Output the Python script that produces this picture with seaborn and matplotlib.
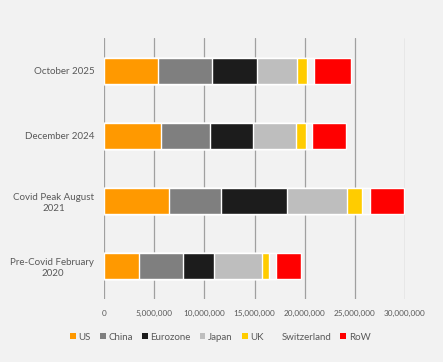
import matplotlib
matplotlib.use("Agg")
import matplotlib.pyplot as plt
from matplotlib.patches import Patch
from matplotlib.ticker import FuncFormatter
import seaborn as sns
import pandas as pd
import numpy as np

periods = ["October 2025", "December 2024", "Covid Peak August\n2021", "Pre-Covid February\n2020"]
series = ["US", "China", "Eurozone", "Japan", "UK", "Switzerland", "RoW"]
us = [5370000, 5640000, 6470000, 3470000]
china = [5400000, 4930000, 5200000, 4400000]
eurozone = [4500000, 4330000, 6530000, 3100000]
japan = [4000000, 4240000, 6040000, 4770000]
uk = [1000000, 1030000, 1430000, 730000]
switzerland = [700000, 600000, 870000, 630000]
row = [3600000, 3300000, 3330000, 2500000]
colors = ["#FF9900", "#7F7F7F", "#1C1C1C", "#BEBEBE", "#FFCC00", "#F2F2F2", "#FF0000"]
xticks = [0, 5000000, 10000000, 15000000, 20000000, 25000000, 30000000]

bg = "#F2F2F2"
sns.set_style("white")
plt.rcParams["font.family"] = ["Lato", "DejaVu Sans"]

df = pd.DataFrame({"period": periods, "US": us, "China": china, "Eurozone": eurozone,
                   "Japan": japan, "UK": uk, "Switzerland": switzerland, "RoW": row})
cum = df[series].cumsum(axis=1)
cum["period"] = df["period"]

fig = plt.figure(figsize=(4.43, 3.62), dpi=100, facecolor=bg)
ax = fig.add_axes([104 / 443, 63 / 362, 301 / 443, 261 / 362])
ax.set_facecolor(bg)

for s, c in reversed(list(zip(series, colors))):
    sns.barplot(data=cum, x=s, y="period", order=periods, color=c, orient="h",
                width=0.4, saturation=1, ax=ax, zorder=3)

ax.set_xlim(0, 30000000)
ax.set_xticks(xticks)
ax.xaxis.set_major_formatter(FuncFormatter(lambda v, p: f"{int(v):,}"))
ax.grid(axis="x", color="#A0A0A0", lw=0.9, zorder=0)
ax.grid(axis="y", visible=False)
for sp in ax.spines.values():
    sp.set_visible(False)
ax.set_xlabel("")
ax.set_ylabel("")
ax.tick_params(axis="x", length=0, pad=8, labelsize=5.9, labelcolor="#595959")
ax.tick_params(axis="y", length=0, pad=7, labelsize=7, labelcolor="#595959")
for lab in ax.get_yticklabels():
    lab.set_multialignment("center")

handles = [Patch(facecolor=c, edgecolor="none", label=s) for s, c in zip(series, colors)]
fig.legend(handles=handles, loc="center", bbox_to_anchor=(0.497, 1 - 337 / 362), ncol=7,
           frameon=False, fontsize=7, labelcolor="#595959", handlelength=0.6,
           handleheight=0.6, handletextpad=0.3, columnspacing=0.9)

fig.savefig("out.png", dpi=100, facecolor=bg)
